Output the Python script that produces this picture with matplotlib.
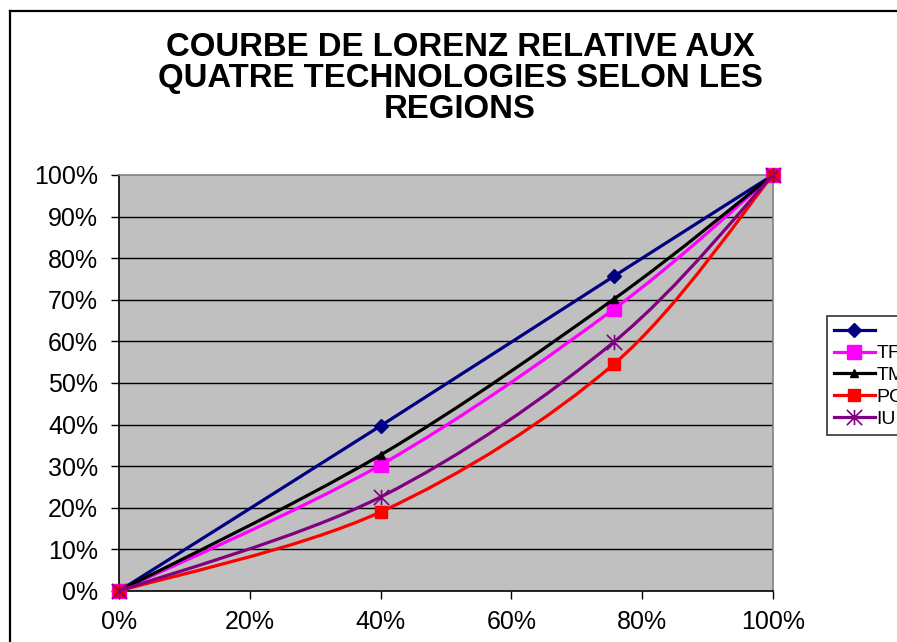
import numpy as np
import matplotlib
matplotlib.use('Agg')
import matplotlib.pyplot as plt
from matplotlib.lines import Line2D
from matplotlib.patches import PathPatch
from matplotlib.path import Path

plt.rcParams['font.family'] = ['Liberation Sans', 'DejaVu Sans']

# ── DATA ─────────────────────────────────────────────
x_share = [0.0, 0.40, 0.757, 1.0]
equal_line = [0.0, 0.397, 0.757, 1.0]
tf = [0.0, 0.303, 0.678, 1.0]
tm = [0.0, 0.327, 0.702, 1.0]
pc = [0.0, 0.190, 0.546, 1.0]
iu = [0.0, 0.226, 0.599, 1.0]

labels = ['', 'TF', 'TM', 'PC', 'IU']
colors = ['#000080', '#FF00FF', '#000000', '#FF0000', '#800080']

y_ticks = [0, 0.1, 0.2, 0.3, 0.4, 0.5, 0.6, 0.7, 0.8, 0.9, 1.0]
y_ticklabels = ['0%', '10%', '20%', '30%', '40%', '50%', '60%', '70%', '80%', '90%', '100%']
x_ticks = [0, 0.2, 0.4, 0.6, 0.8, 1.0]
x_ticklabels = ['0%', '20%', '40%', '60%', '80%', '100%']

title_lines = ['COURBE DE LORENZ RELATIVE AUX',
               'QUATRE TECHNOLOGIES SELON LES',
               'REGIONS']

# Excel "star" marker: an X with a vertical bar through it
star = Path([(-1, -1), (1, 1), (-1, 1), (1, -1), (0, -1), (0, 1)],
            [Path.MOVETO, Path.LINETO] * 3)
markers = ['D', 's', '^', 's', star]
msizes = [7, 10, 6, 9, 11]


def smooth_path(xs, ys):
    # Excel-style smoothed line: cubic bezier through every point
    pts = np.column_stack([xs, ys])
    n = len(pts)
    verts = [pts[0]]
    codes = [Path.MOVETO]
    for i in range(n - 1):
        p0 = pts[max(i - 1, 0)]
        p1 = pts[i]
        p2 = pts[i + 1]
        p3 = pts[min(i + 2, n - 1)]
        verts += [p1 + (p2 - p0) / 6, p2 - (p3 - p1) / 6, p2]
        codes += [Path.CURVE4] * 3
    return Path(verts, codes)


W, H = 897, 642
fig = plt.figure(figsize=(W / 100, H / 100), dpi=100)
ax = fig.add_axes([119 / W, 1 - 591 / H, 654 / W, 416 / H])
ax.set_facecolor('#C0C0C0')

series = [equal_line, tf, tm, pc, iu]
handles = []
for i, ys in enumerate(series):
    patch = PathPatch(smooth_path(x_share, ys), facecolor='none',
                      edgecolor=colors[i], lw=2.3, zorder=3 + i)
    ax.add_patch(patch)
    mk = markers[i]
    ax.plot(x_share, ys, linestyle='none', marker=mk, ms=msizes[i],
            color=colors[i], mec=colors[i], mew=1.2 if i == 4 else 1,
            zorder=3.5 + i, clip_on=False)
    handles.append(Line2D([], [], color=colors[i], lw=2.3, marker=mk,
                          ms=msizes[i], mec=colors[i],
                          mew=1.2 if i == 4 else 1))

ax.set_xlim(0, 1)
ax.set_ylim(0, 1)
ax.set_yticks(y_ticks)
ax.set_yticklabels(y_ticklabels)
ax.set_xticks(x_ticks)
ax.set_xticklabels(x_ticklabels)
for yv in y_ticks[1:-1]:
    ax.axhline(yv, color='black', lw=1.0, zorder=1)

ax.tick_params(axis='both', direction='out', length=6, width=1, labelsize=18)
ax.tick_params(axis='y', pad=9)
ax.tick_params(axis='x', pad=8)
ax.spines['left'].set_color('black')
ax.spines['bottom'].set_color('black')
ax.spines['top'].set_color('#808080')
ax.spines['right'].set_color('#808080')
for s in ax.spines.values():
    s.set_linewidth(1.2)

title_y = [47, 78, 110]
for line, yp in zip(title_lines, title_y):
    fig.text(460 / W, 1 - yp / H, line, ha='center', va='center',
             fontsize=23.7, fontweight='bold')

leg = fig.legend(handles, labels, loc='upper left',
                 bbox_to_anchor=(827 / W, 1 - 316 / H), fontsize=14,
                 frameon=True, fancybox=False, edgecolor='black',
                 handlelength=2.1, handletextpad=0.1, labelspacing=0.22,
                 borderpad=0.35, borderaxespad=0)
leg.get_frame().set_linewidth(1.2)

# outer chart frame (right and bottom edges fall outside the picture)
fig.add_artist(Line2D([9.5 / W, 9.5 / W], [0, 1 - 10.5 / H],
                      transform=fig.transFigure, color='black', lw=1.6))
fig.add_artist(Line2D([9.5 / W, 1], [1 - 10.5 / H, 1 - 10.5 / H],
                      transform=fig.transFigure, color='black', lw=1.6))

fig.savefig('out.png', dpi=100)
